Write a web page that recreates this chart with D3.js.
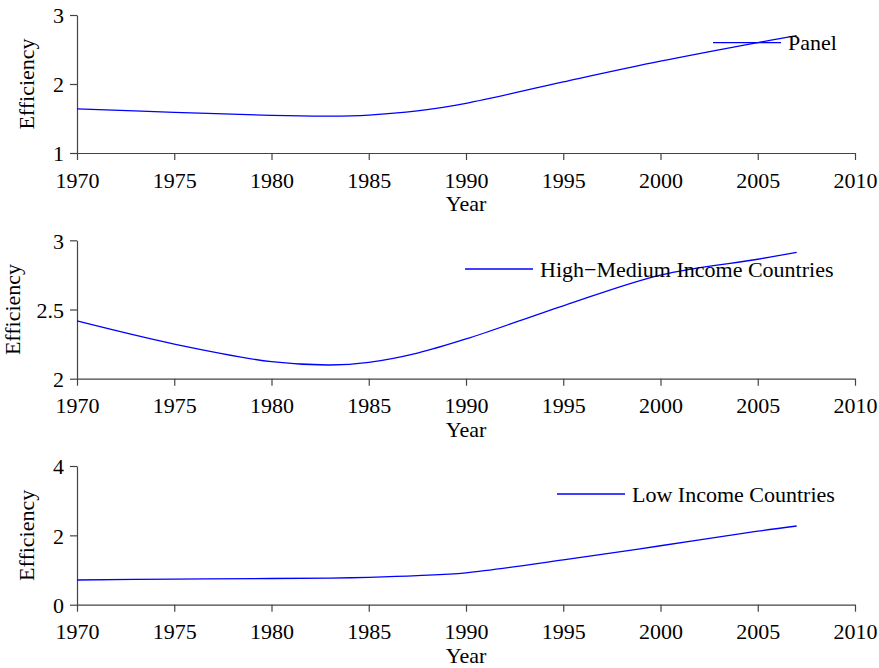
<!DOCTYPE html>
<html>
<head>
<meta charset="utf-8">
<script src="https://cdn.jsdelivr.net/npm/d3@7"></script>
<style>
  body { margin: 0; background: #fff; }
  svg text { font-family: "Liberation Serif", "Times New Roman", serif !important; fill: #000; }
</style>
</head>
<body>
<div id="chart"></div>
<script>
var svgWidth = 879;
var svgHeight = 668;

// data
var years = [1970, 1975, 1980, 1983, 1985, 1987.5, 1990, 1995, 2000, 2005, 2007];
var panelValues = [1.64, 1.59, 1.545, 1.535, 1.55, 1.61, 1.72, 2.03, 2.33, 2.60, 2.70];
var highMediumValues = [2.417, 2.25, 2.123, 2.099, 2.118, 2.185, 2.287, 2.527, 2.749, 2.863, 2.913];
var lowValues = [0.712, 0.74, 0.755, 0.765, 0.79, 0.84, 0.92, 1.29, 1.70, 2.12, 2.27];

var seriesNames = ["Panel", "High\u2212Medium Income Countries", "Low Income Countries"];
var xTicks = [1970, 1975, 1980, 1985, 1990, 1995, 2000, 2005, 2010];
var yTicks1 = [1, 2, 3];
var yTicks2 = [2, 2.5, 3];
var yTicks3 = [0, 2, 4];

var left = 77, right = 855;
var fontSize = 22;

var panels = [
  { values: panelValues, name: seriesNames[0], domain: [1, 3], ticks: yTicks1,
    top: 15, bottom: 153, legX: 713, legY: 42.7, labX: 34 },
  { values: highMediumValues, name: seriesNames[1], domain: [2, 3], ticks: yTicks2,
    top: 240.3, bottom: 378.7, legX: 465, legY: 269, labX: 20 },
  { values: lowValues, name: seriesNames[2], domain: [0, 4], ticks: yTicks3,
    top: 466, bottom: 604.7, legX: 557, legY: 494, labX: 34 }
];

var svg = d3.select("#chart")
  .append("svg")
  .attr("width", svgWidth)
  .attr("height", svgHeight);

var xScale = d3.scaleLinear()
  .domain([1970, 2010])
  .range([left, right]);

panels.forEach(function(p) {
  var yScale = d3.scaleLinear()
    .domain(p.domain)
    .range([p.bottom, p.top]);

  var g = svg.append("g");

  // x axis
  var xAxis = g.append("g")
    .attr("transform", `translate(0, ${p.bottom})`)
    .call(d3.axisBottom(xScale).tickValues(xTicks).tickFormat(d3.format("d"))
      .tickSize(7).tickSizeOuter(0).tickPadding(12));

  // y axis
  var yAxis = g.append("g")
    .attr("transform", `translate(${left}, 0)`)
    .call(d3.axisLeft(yScale).tickValues(p.ticks).tickFormat(d => d)
      .tickSize(7).tickSizeOuter(0).tickPadding(6));

  g.selectAll(".domain, .tick line")
    .attr("stroke", "#444")
    .attr("stroke-width", 1.2);
  g.selectAll(".tick text")
    .attr("font-size", fontSize + "px")
    .style("font-family", "'Liberation Serif', serif")
    .attr("fill", "#000");
  yAxis.selectAll(".tick text").attr("dy", "0.35em");

  // axis titles
  g.append("text")
    .attr("x", (left + right) / 2)
    .attr("y", p.bottom + 58)
    .attr("text-anchor", "middle")
    .attr("font-size", fontSize + "px")
    .text("Year");

  g.append("text")
    .attr("transform", `translate(${p.labX}, ${(p.top + p.bottom) / 2}) rotate(-90)`)
    .attr("text-anchor", "middle")
    .attr("font-size", fontSize + "px")
    .text("Efficiency");

  // series line
  var line = d3.line()
    .x((d, i) => xScale(years[i]))
    .y(d => yScale(d))
    .curve(d3.curveCatmullRom);

  g.append("path")
    .datum(p.values)
    .attr("d", line)
    .attr("fill", "none")
    .attr("stroke", "#0000ff")
    .attr("stroke-width", 1.3);

  // legend
  g.append("line")
    .attr("x1", p.legX)
    .attr("x2", p.legX + 68)
    .attr("y1", p.legY)
    .attr("y2", p.legY)
    .attr("stroke", "#0000ff")
    .attr("stroke-width", 1.3);

  g.append("text")
    .attr("x", p.legX + 75)
    .attr("y", p.legY)
    .attr("dy", "0.35em")
    .attr("font-size", fontSize + "px")
    .text(p.name);
});
</script>
</body>
</html>
